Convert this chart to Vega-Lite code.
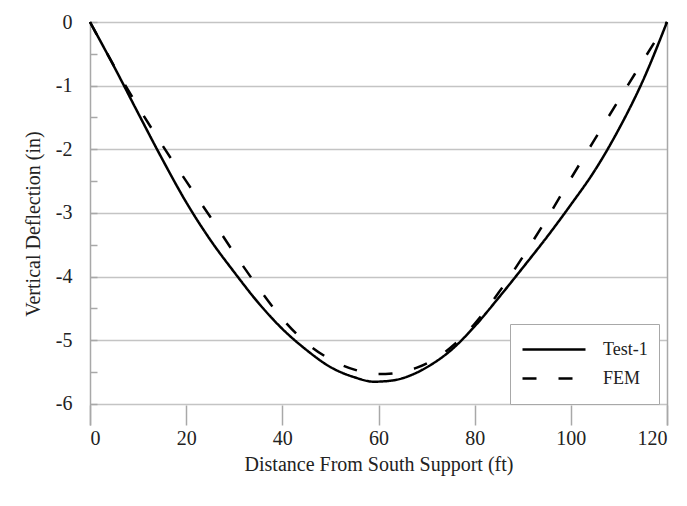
{
  "$schema": "https://vega.github.io/schema/vega-lite/v6.json",
  "autosize": {"type": "none"},
  "width": 577,
  "height": 403,
  "padding": {"left": 90, "top": 22, "right": 20, "bottom": 81},
  "background": "white",
  "config": {
    "view": {"stroke": null},
    "font": "Liberation Serif",
    "axis": {
      "labelFont": "Liberation Serif",
      "titleFont": "Liberation Serif",
      "labelFontSize": 20,
      "titleFontSize": 20,
      "titleFontWeight": "normal",
      "labelColor": "#222",
      "titleColor": "#222",
      "domainColor": "#a8a8a8",
      "domainWidth": 1.5,
      "tickColor": "#a8a8a8",
      "tickWidth": 1.5,
      "gridColor": "#c4c4c4",
      "gridWidth": 1.5
    }
  },
  "data": {
    "values": [
      {"x": 0, "y": 0, "series": "Test-1"},
      {"x": 5, "y": -0.7, "series": "Test-1"},
      {"x": 10, "y": -1.43, "series": "Test-1"},
      {"x": 15, "y": -2.15, "series": "Test-1"},
      {"x": 20, "y": -2.83, "series": "Test-1"},
      {"x": 25, "y": -3.42, "series": "Test-1"},
      {"x": 30, "y": -3.93, "series": "Test-1"},
      {"x": 35, "y": -4.41, "series": "Test-1"},
      {"x": 40, "y": -4.82, "series": "Test-1"},
      {"x": 45, "y": -5.15, "series": "Test-1"},
      {"x": 50, "y": -5.42, "series": "Test-1"},
      {"x": 55, "y": -5.58, "series": "Test-1"},
      {"x": 59, "y": -5.65, "series": "Test-1"},
      {"x": 63, "y": -5.63, "series": "Test-1"},
      {"x": 67, "y": -5.54, "series": "Test-1"},
      {"x": 71, "y": -5.38, "series": "Test-1"},
      {"x": 75, "y": -5.16, "series": "Test-1"},
      {"x": 80, "y": -4.78, "series": "Test-1"},
      {"x": 85, "y": -4.33, "series": "Test-1"},
      {"x": 90, "y": -3.86, "series": "Test-1"},
      {"x": 95, "y": -3.38, "series": "Test-1"},
      {"x": 100, "y": -2.87, "series": "Test-1"},
      {"x": 105, "y": -2.33, "series": "Test-1"},
      {"x": 110, "y": -1.68, "series": "Test-1"},
      {"x": 115, "y": -0.92, "series": "Test-1"},
      {"x": 120, "y": 0, "series": "Test-1"},
      {"x": 0, "y": 0, "series": "FEM"},
      {"x": 5, "y": -0.69, "series": "FEM"},
      {"x": 10, "y": -1.33, "series": "FEM"},
      {"x": 15, "y": -1.93, "series": "FEM"},
      {"x": 20, "y": -2.5, "series": "FEM"},
      {"x": 25, "y": -3.06, "series": "FEM"},
      {"x": 30, "y": -3.63, "series": "FEM"},
      {"x": 35, "y": -4.17, "series": "FEM"},
      {"x": 40, "y": -4.66, "series": "FEM"},
      {"x": 45, "y": -5.04, "series": "FEM"},
      {"x": 50, "y": -5.3, "series": "FEM"},
      {"x": 55, "y": -5.46, "series": "FEM"},
      {"x": 60, "y": -5.53, "series": "FEM"},
      {"x": 64, "y": -5.51, "series": "FEM"},
      {"x": 68, "y": -5.43, "series": "FEM"},
      {"x": 72, "y": -5.28, "series": "FEM"},
      {"x": 76, "y": -5.05, "series": "FEM"},
      {"x": 80, "y": -4.74, "series": "FEM"},
      {"x": 85, "y": -4.25, "series": "FEM"},
      {"x": 90, "y": -3.69, "series": "FEM"},
      {"x": 95, "y": -3.09, "series": "FEM"},
      {"x": 100, "y": -2.46, "series": "FEM"},
      {"x": 105, "y": -1.84, "series": "FEM"},
      {"x": 110, "y": -1.22, "series": "FEM"},
      {"x": 115, "y": -0.61, "series": "FEM"},
      {"x": 120, "y": 0, "series": "FEM"}
    ]
  },
  "layer": [
    {
      "mark": {"type": "line", "interpolate": "monotone", "strokeWidth": 2.5, "color": "black"},
      "encoding": {
        "x": {
          "field": "x", "type": "quantitative",
          "scale": {"domain": [0, 120], "nice": false},
          "axis": {
            "values": [0, 20, 40, 60, 80, 100, 120],
            "grid": false, "domain": false,
            "tickSize": -20, "labelPadding": 23,
            "title": "Distance From South Support (ft)",
            "titlePadding": 6
          }
        },
        "y": {
          "field": "y", "type": "quantitative",
          "scale": {"domain": [-6.33, 0], "nice": false, "zero": false},
          "axis": {
            "values": [0, -0.5, -1, -1.5, -2, -2.5, -3, -3.5, -4, -4.5, -5, -5.5, -6],
            "labelExpr": "datum.value % 1 === 0 ? toString(datum.value) : ''",
            "gridOpacity": {"condition": {"test": "datum.value % 1 !== 0", "value": 0}, "value": 1},
            "tickSize": -7, "labelPadding": 25,
            "title": "Vertical Deflection (in)",
            "titlePadding": 12
          }
        },
        "strokeDash": {
          "field": "series", "type": "nominal",
          "scale": {"domain": ["Test-1", "FEM"], "range": [[1, 0], [14, 22]]},
          "legend": {
            "orient": "none", "legendX": 420, "legendY": 302,
            "title": null,
            "fillColor": "white", "strokeColor": "#a8a8a8",
            "padding": 11, "rowPadding": 0,
            "symbolType": "stroke", "symbolSize": 3969, "symbolStrokeWidth": 2.5,
            "symbolStrokeColor": "black", "clipHeight": 29,
            "labelFont": "Liberation Serif", "labelFontSize": 18, "labelColor": "#222",
            "labelOffset": 16
          }
        }
      }
    },
    {
      "mark": {"type": "line", "opacity": 0},
      "encoding": {
        "x": {"field": "x", "type": "quantitative"},
        "y": {
          "field": "y", "type": "quantitative",
          "axis": {"orient": "right", "labels": false, "ticks": false, "grid": false, "title": null}
        },
        "detail": {"field": "series"}
      }
    }
  ],
  "resolve": {"axis": {"y": "independent"}}
}
